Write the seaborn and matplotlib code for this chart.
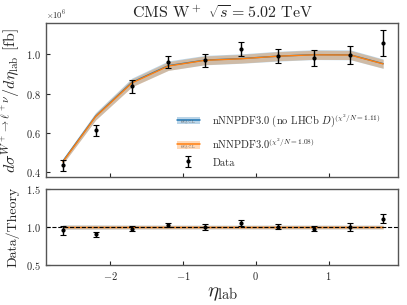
import numpy as np
import matplotlib
matplotlib.use("Agg")
import matplotlib.pyplot as plt
import seaborn as sns
import pandas as pd
from matplotlib.legend_handler import HandlerBase
from matplotlib.patches import Rectangle, Patch
from matplotlib.lines import Line2D
from matplotlib.text import Text

# data
eta = [-2.65, -2.2, -1.7, -1.2, -0.7, -0.2, 0.3, 0.8, 1.3, 1.75]
data_xs = [0.434, 0.614, 0.837, 0.959, 0.969, 1.026, 0.991, 0.981, 0.996, 1.055]
data_err = [0.027, 0.028, 0.032, 0.031, 0.034, 0.037, 0.034, 0.039, 0.047, 0.066]
theory_nolhcb = [0.455, 0.684, 0.857, 0.942, 0.970, 0.978, 0.990, 0.998, 0.997, 0.952]
theory_nolhcb_err = [0.013, 0.019, 0.022, 0.024, 0.024, 0.024, 0.025, 0.025, 0.025, 0.024]
theory = [0.452, 0.682, 0.854, 0.940, 0.969, 0.977, 0.990, 0.997, 0.996, 0.951]
theory_err = [0.011, 0.017, 0.020, 0.022, 0.022, 0.022, 0.023, 0.023, 0.023, 0.022]
ratio = [0.96, 0.905, 0.98, 1.025, 1.0, 1.055, 1.005, 0.98, 1.0, 1.11]
ratio_err = [0.06, 0.03, 0.035, 0.03, 0.035, 0.035, 0.035, 0.035, 0.05, 0.06]

scale = 1e6
df = pd.DataFrame({"eta": eta,
                   "nolhcb": np.array(theory_nolhcb) * scale,
                   "nnpdf": np.array(theory) * scale})

sns.set_style("ticks")
plt.rcParams["font.family"] = "serif"
plt.rcParams["font.serif"] = ["cmr10", "DejaVu Serif"]
plt.rcParams["mathtext.fontset"] = "cm"
plt.rcParams["axes.formatter.use_mathtext"] = True
plt.rcParams["axes.edgecolor"] = "#555555"
plt.rcParams["axes.linewidth"] = 1.0
plt.rcParams["xtick.direction"] = "in"
plt.rcParams["ytick.direction"] = "in"

blue = "#1f77b4"
orange = "#ff7f0e"


class BandHandler(HandlerBase):
    def create_artists(self, legend, orig_handle, xdescent, ydescent,
                       width, height, fontsize, trans):
        c = orig_handle.get_facecolor()
        rect = Rectangle((-xdescent, -ydescent + height * 0.1), width, height * 0.8,
                         facecolor=c, alpha=0.3, lw=0, transform=trans)
        ly = -ydescent + height * 0.55
        line = Line2D([-xdescent, -xdescent + width], [ly, ly],
                      color=c, alpha=1, lw=1.1, transform=trans)
        txt = Text(-xdescent + width / 2, -ydescent + height * 0.12, "68% C.L.",
                   fontsize=2.5, ha="center", va="bottom", color="#555555",
                   transform=trans)
        return [rect, line, txt]


fig = plt.figure(figsize=(4.07, 3.05), dpi=100)
ax = fig.add_axes([0.113, 0.42, 0.866, 0.504])
axr = fig.add_axes([0.113, 0.131, 0.866, 0.249], sharex=ax)

# top panel
ax.fill_between(eta, df["nolhcb"] - np.array(theory_nolhcb_err) * scale,
                df["nolhcb"] + np.array(theory_nolhcb_err) * scale,
                color=blue, alpha=0.3, lw=0)
ax.fill_between(eta, df["nnpdf"] - np.array(theory_err) * scale,
                df["nnpdf"] + np.array(theory_err) * scale,
                color=orange, alpha=0.3, lw=0)
sns.lineplot(data=df, x="eta", y="nolhcb", ax=ax, color=blue, lw=1.0)
sns.lineplot(data=df, x="eta", y="nnpdf", ax=ax, color=orange, lw=1.0)
eb = ax.errorbar(eta, np.array(data_xs) * scale, yerr=np.array(data_err) * scale,
                 fmt="o", color="black", ms=2, elinewidth=1, capsize=2, capthick=0.8)

ax.set_xlim(-2.88, 1.96)
ax.set_ylim(0.376e6, 1.158e6)
ax.set_yticks([0.4e6, 0.6e6, 0.8e6, 1.0e6])
ax.set_xticks([-2, -1, 0, 1])
ax.tick_params(labelbottom=False, labelsize=7.5, length=3)
ax.yaxis.get_offset_text().set_fontsize(6)
ax.set_xlabel("")
ax.set_ylabel(r"$d\sigma^{W^+\to\ell^+\nu}/d\eta_{\rm lab}$ [fb]", fontsize=11.5, labelpad=2)
ax.set_title(r"CMS W$^+$ $\sqrt{s}=5.02$ TeV", fontsize=11.5, pad=3)

h1 = Patch(facecolor=blue)
h2 = Patch(facecolor=orange)
ax.legend([h1, h2, eb],
          [r"nNNPDF3.0 (no LHCb $D$)$^{(\chi^2/N=1.11)}$",
           r"nNNPDF3.0$^{(\chi^2/N=1.08)}$", "Data"],
          handler_map={h1: BandHandler(), h2: BandHandler()},
          loc="lower left", bbox_to_anchor=(0.345, 0.0), frameon=False,
          fontsize=7.5, handlelength=2.2, handleheight=1.0, handletextpad=1.2,
          labelspacing=0.65)

# ratio panel
axr.fill_between(eta, 1 - np.array(theory_nolhcb_err) / np.array(theory_nolhcb),
                 1 + np.array(theory_nolhcb_err) / np.array(theory_nolhcb),
                 color=blue, alpha=0.3, lw=0)
axr.fill_between(eta, 1 - np.array(theory_err) / np.array(theory),
                 1 + np.array(theory_err) / np.array(theory),
                 color=orange, alpha=0.3, lw=0)
sns.lineplot(x=eta, y=np.ones(len(eta)), ax=axr, color=orange, lw=1.0)
axr.axhline(1.0, color="black", ls="--", lw=0.8)
axr.errorbar(eta, ratio, yerr=ratio_err, fmt="o", color="black", ms=2,
             elinewidth=1, capsize=2, capthick=0.8)
axr.set_ylim(0.5, 1.5)
axr.set_yticks([0.5, 1.0, 1.5])
axr.tick_params(labelsize=7.5, length=3)
axr.set_xlabel(r"$\eta_{\rm lab}$", fontsize=15, labelpad=2)
axr.set_ylabel("Data/Theory", fontsize=10, labelpad=5)

fig.savefig("out.png", dpi=100)
